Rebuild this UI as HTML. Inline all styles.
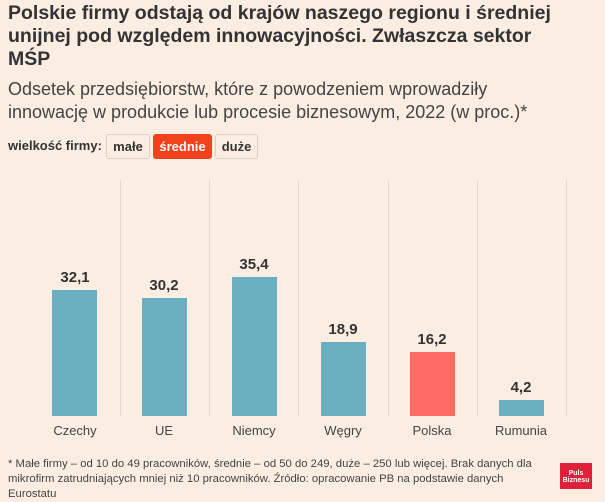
<!DOCTYPE html>
<html><head><meta charset="utf-8"><style>
*{margin:0;padding:0;box-sizing:border-box}
body{width:605px;height:502px;background:#fbede2;font-family:"Liberation Sans",sans-serif;position:relative;overflow:hidden;color:#333}
.t{position:absolute;left:8px;top:2px;font-size:19.5px;font-weight:bold;line-height:23px;color:#333;width:565px}
.s{position:absolute;left:8px;top:78px;font-size:18px;line-height:23px;color:#444;width:560px}
.f{position:absolute;left:8px;top:138px;font-size:13px;font-weight:bold;color:#333}
.b{position:absolute;top:134px;height:25px;border:1px solid #d8cfc6;border-radius:3px;background:#fbede2;font-size:13px;font-weight:bold;text-align:center;line-height:23px;color:#333}
.g{position:absolute;top:180px;height:236px;width:1px;background:#e0d6cc}
.bar{position:absolute;width:45px;background:#6baebf}
.v{position:absolute;width:80px;text-align:center;font-size:15px;font-weight:bold;color:#333}
.l{position:absolute;top:423px;width:100px;text-align:center;font-size:13px;color:#444}
.n{position:absolute;left:8px;top:457px;font-size:11.3px;line-height:15px;color:#444;width:535px}
</style></head><body>
<div class="t">Polskie firmy odstają od krajów naszego regionu i średniej unijnej pod względem innowacyjności. Zwłaszcza sektor MŚP</div>
<div class="s">Odsetek przedsiębiorstw, które z powodzeniem wprowadziły innowację w produkcie lub procesie biznesowym, 2022 (w proc.)*</div>
<div class="f">wielkość firmy:</div>
<div class="b" style="left:106px;width:44px">małe</div>
<div class="b" style="left:153px;width:59px;background:#f0421c;border-color:#f0421c;color:#fff">średnie</div>
<div class="b" style="left:215px;width:43px">duże</div>
<div class="g" style="left:120px"></div><div class="g" style="left:209px"></div><div class="g" style="left:298px"></div><div class="g" style="left:388px"></div><div class="g" style="left:477px"></div><div class="g" style="left:566px"></div>
<div class="bar" style="left:52px;top:290px;height:126px"></div>
<div class="bar" style="left:142px;top:298px;height:118px"></div>
<div class="bar" style="left:232px;top:277px;height:139px"></div>
<div class="bar" style="left:321px;top:342px;height:74px"></div>
<div class="bar" style="left:410px;top:352px;height:64px;background:#fe6b61"></div>
<div class="bar" style="left:499px;top:400px;height:16px"></div>
<div class="v" style="left:35px;top:269px">32,1</div>
<div class="v" style="left:124px;top:277px">30,2</div>
<div class="v" style="left:214px;top:256px">35,4</div>
<div class="v" style="left:303px;top:321px">18,9</div>
<div class="v" style="left:392px;top:331px">16,2</div>
<div class="v" style="left:481px;top:379px">4,2</div>
<div class="l" style="left:25px">Czechy</div>
<div class="l" style="left:114px">UE</div>
<div class="l" style="left:204px">Niemcy</div>
<div class="l" style="left:293px">Węgry</div>
<div class="l" style="left:382px">Polska</div>
<div class="l" style="left:471px">Rumunia</div>
<div class="n">* Małe firmy – od 10 do 49 pracowników, średnie – od 50 do 249, duże – 250 lub więcej. Brak danych dla mikrofirm zatrudniających mniej niż 10 pracowników. Źródło: opracowanie PB na podstawie danych Eurostatu</div>
<div style="position:absolute;left:560px;top:463px;width:32px;height:26px;background:#e0203a;color:#fff;font-size:7px;font-weight:bold;text-align:center;line-height:7px;padding-top:7px">Puls<br>Biznesu</div>
</body></html>
